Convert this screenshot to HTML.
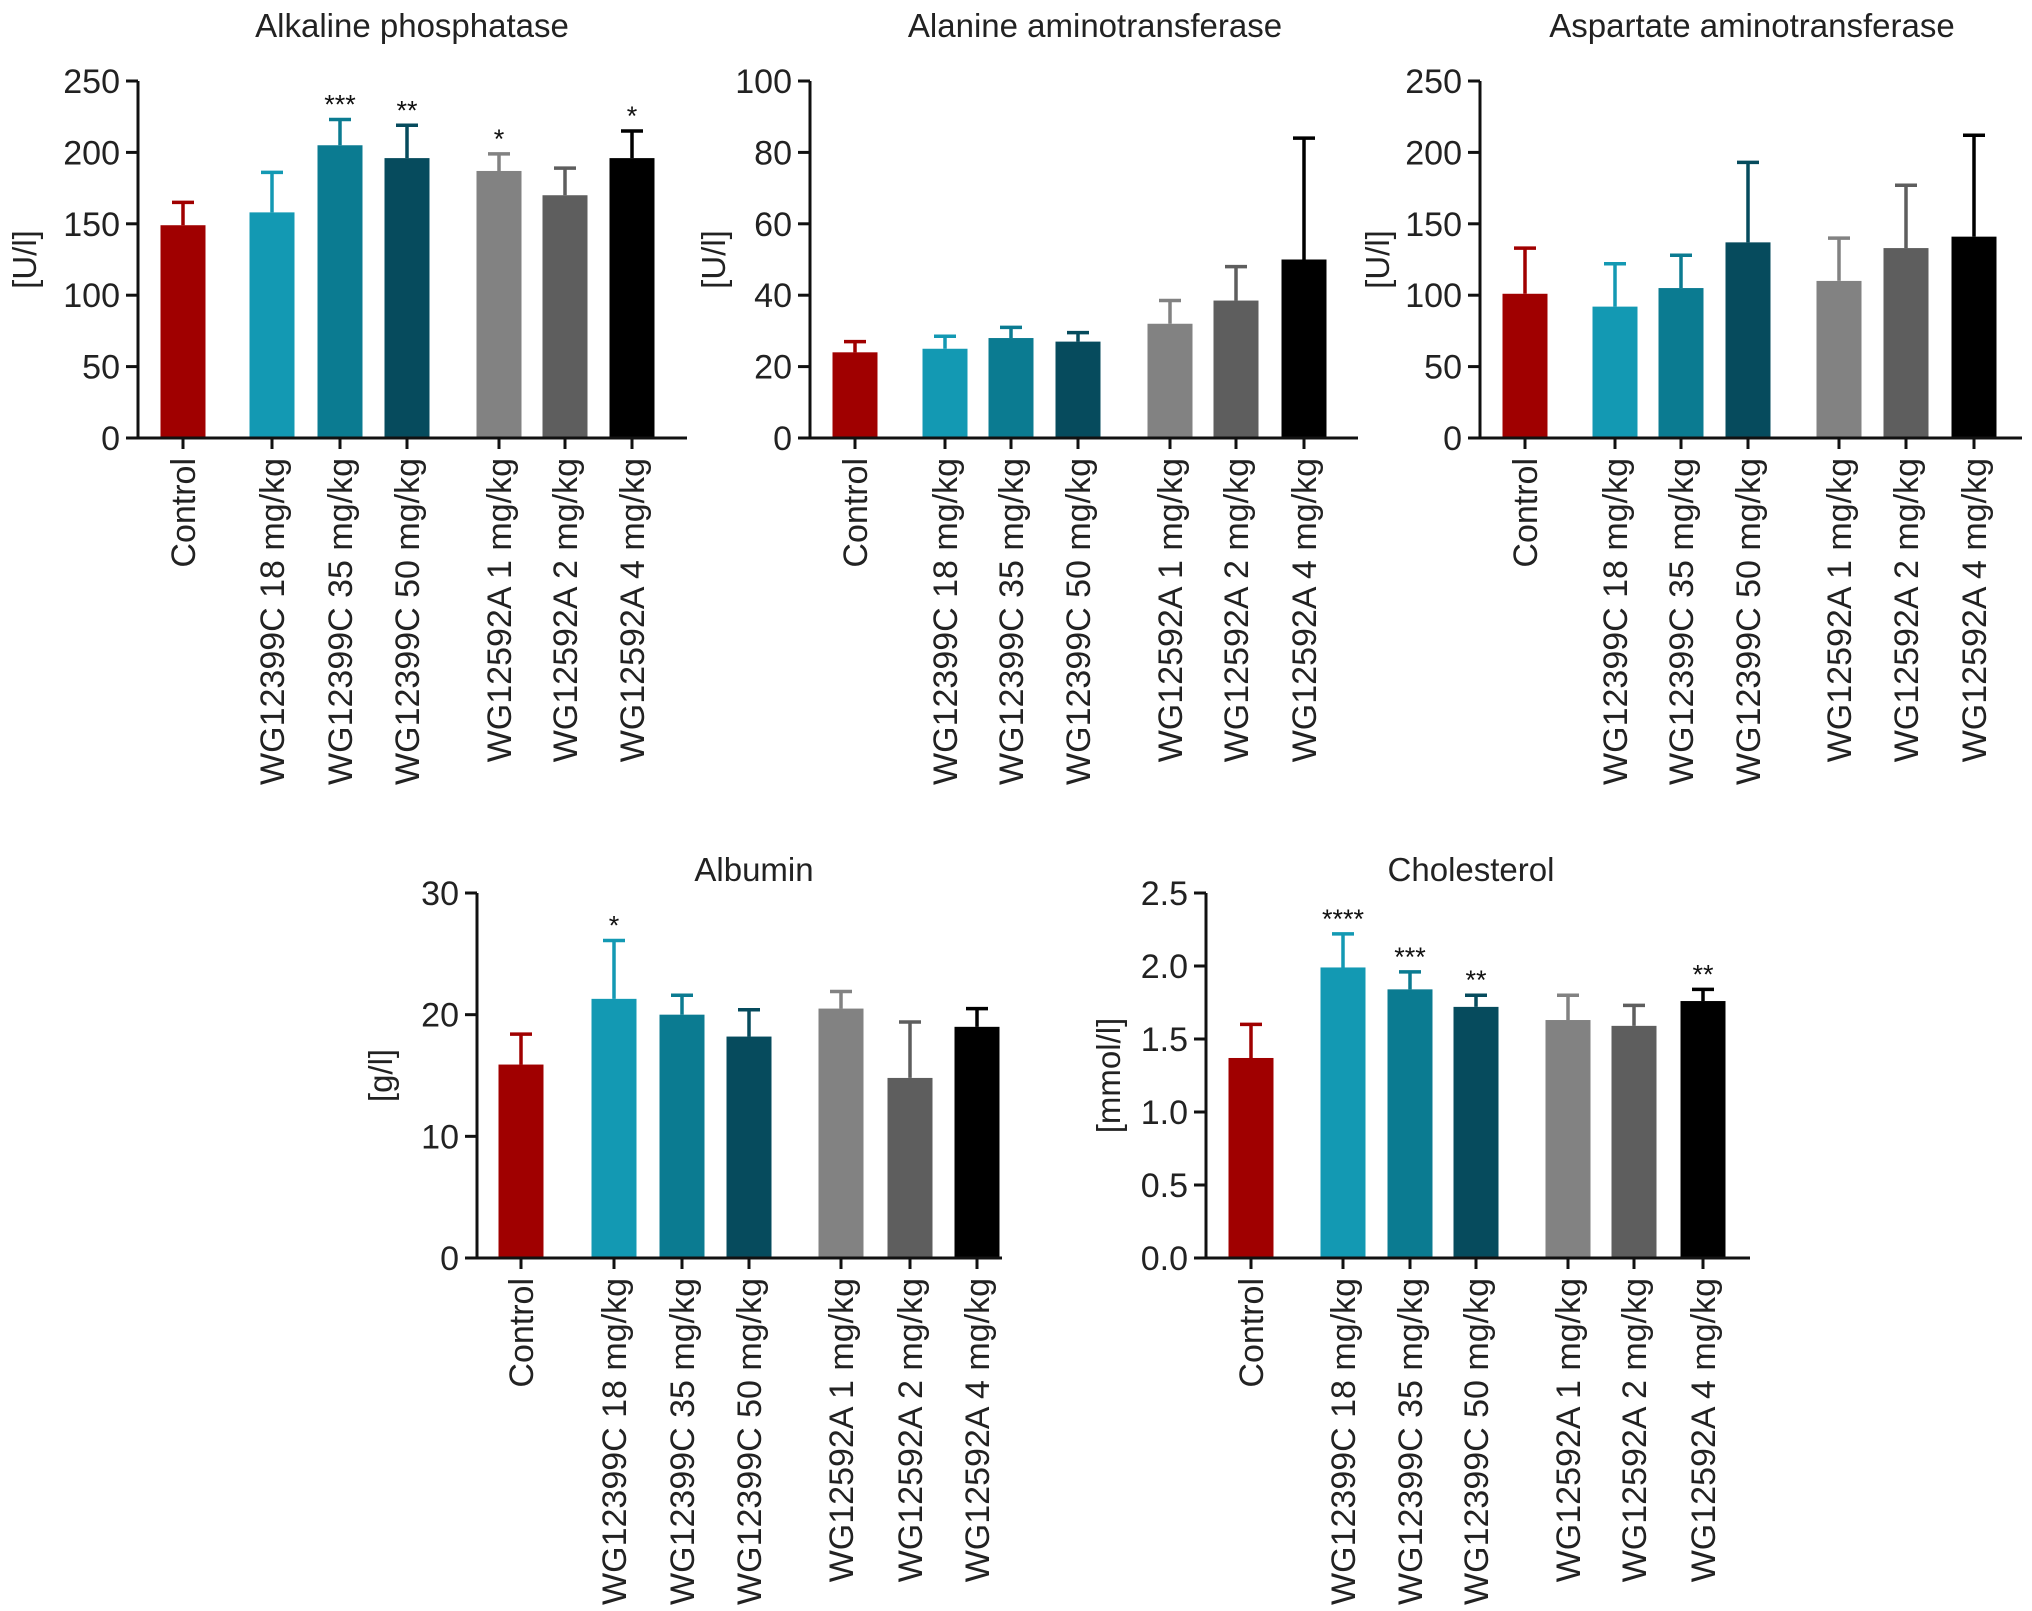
<!DOCTYPE html>
<html><head><meta charset="utf-8"><style>
html,body{margin:0;padding:0;background:#fff;}
svg{display:block;font-family:"Liberation Sans",Arial,sans-serif;}
</style></head><body>
<svg id="fig" width="2032" height="1611" viewBox="0 0 2032 1611" xmlns="http://www.w3.org/2000/svg"></svg>
<script>
const categories = ["Control","WG12399C 18 mg/kg","WG12399C 35 mg/kg","WG12399C 50 mg/kg","WG12592A 1 mg/kg","WG12592A 2 mg/kg","WG12592A 4 mg/kg"];
const alpMeans = [149,158,205,196,187,170,196];
const alpErr = [16,28,18,23,12,19,19];
const alpStars = ["","","***","**","*","","*"];
const altMeans = [24,25,28,27,32,38.5,50];
const altErr = [3,3.5,3,2.5,6.5,9.5,34];
const altStars = ["","","","","","",""];
const astMeans = [101,92,105,137,110,133,141];
const astErr = [32,30,23,56,30,44,71];
const astStars = ["","","","","","",""];
const albMeans = [15.9,21.3,20,18.2,20.5,14.8,19];
const albErr = [2.5,4.8,1.6,2.2,1.4,4.6,1.5];
const albStars = ["","*","","","","",""];
const cholMeans = [1.37,1.99,1.84,1.72,1.63,1.59,1.76];
const cholErr = [0.23,0.23,0.12,0.08,0.17,0.14,0.08];
const cholStars = ["","****","***","**","","","**"];
const alpTicks = [0,50,100,150,200,250];
const altTicks = [0,20,40,60,80,100];
const astTicks = [0,50,100,150,200,250];
const albTicks = [0,10,20,30];
const cholTicks = [0,0.5,1.0,1.5,2.0,2.5];

const colors = ["#a00000","#1399b3","#0b7b91","#064b5d","#828282","#5e5e5e","#000000"];
const NS = "http://www.w3.org/2000/svg";
const svg = document.getElementById("fig");
function mk(tag, attrs, parent){const e=document.createElementNS(NS,tag);for(const k in attrs)e.setAttribute(k,attrs[k]);(parent||svg).appendChild(e);return e;}

function panel(cfg){
  const g = mk("g",{});
  
  
  const max = cfg.ticks[cfg.ticks.length-1];
  const y = v => cfg.y0 - (v/max)*(cfg.y0-cfg.yTop);
  const xs = cfg.centers;
  const t = mk("text",{x:cfg.titleX,y:cfg.titleY,"font-size":33,"text-anchor":"middle",fill:"#222"},g);
  t.textContent = cfg.title;
  
  
  const yl = mk("text",{x:0,y:0,"font-size":33,"text-anchor":"middle",fill:"#222",transform:`translate(${cfg.ylabX},${(cfg.y0+cfg.yTop)/2}) rotate(-90)`},g);
  yl.textContent = cfg.ylab;
  
  
  cfg.means.forEach((m,i)=>{
    const top = y(m), eTop = y(m+cfg.err[i]);
    const b = mk("rect",{x:xs[i]-22.5,y:top,width:45,height:cfg.y0-top,fill:colors[i]},g);
    
    
    const eb = mk("path",{d:`M${xs[i]} ${top} V${eTop} M${xs[i]-11} ${eTop} H${xs[i]+11}`,stroke:colors[i],"stroke-width":3.5,fill:"none"},g);
    
    
    if(cfg.stars[i]){
      const s = mk("text",{x:xs[i],y:eTop-6,"font-size":27,"text-anchor":"middle",fill:"#111"},g);
      s.textContent = cfg.stars[i];
      
      
    }
    mk("line",{x1:xs[i],x2:xs[i],y1:cfg.y0,y2:cfg.y0+11,stroke:"#111","stroke-width":3},g);
    const cl = mk("text",{x:0,y:0,"font-size":34,"text-anchor":"end",fill:"#222",transform:`translate(${xs[i]+12},${cfg.y0+20}) rotate(-90)`},g);
    cl.textContent = categories[i];
    
    
  });
  const ax = mk("path",{d:`M${cfg.axX} ${cfg.yTop} V${cfg.y0} M${cfg.axX-12} ${cfg.y0} H${cfg.axR}`,stroke:"#111","stroke-width":3,fill:"none"},g);
  
  
  cfg.ticks.forEach(v=>{
    mk("line",{x1:cfg.axX-12,x2:cfg.axX,y1:y(v),y2:y(v),stroke:"#111","stroke-width":3},g);
    const tl = mk("text",{x:cfg.axX-18,y:y(v)+12,"font-size":34,"text-anchor":"end",fill:"#222"},g);
    tl.textContent = cfg.dec ? v.toFixed(1) : String(v);
    
    
  });
}
panel({name:"alkaline-phosphatase",title:"Alkaline phosphatase",titleX:412,titleY:37,ylab:"[U/l]",ylabX:36,axX:138,axR:687,y0:438,yTop:81,ticks:alpTicks,means:alpMeans,err:alpErr,stars:alpStars,centers:[183,272,340,407,499,565,632]});
panel({name:"alanine-aminotransferase",title:"Alanine aminotransferase",titleX:1095,titleY:37,ylab:"[U/l]",ylabX:725,axX:810,axR:1358,y0:438,yTop:81,ticks:altTicks,means:altMeans,err:altErr,stars:altStars,centers:[855,945,1011,1078,1170,1236,1304]});
panel({name:"aspartate-aminotransferase",title:"Aspartate aminotransferase",titleX:1752,titleY:37,ylab:"[U/l]",ylabX:1389,axX:1480,axR:2022,y0:438,yTop:81,ticks:astTicks,means:astMeans,err:astErr,stars:astStars,centers:[1525,1615,1681,1748,1839,1906,1974]});
panel({name:"albumin",title:"Albumin",titleX:754,titleY:881,ylab:"[g/l]",ylabX:392,axX:477,axR:1002,y0:1258,yTop:893,ticks:albTicks,means:albMeans,err:albErr,stars:albStars,centers:[521,614,682,749,841,910,977]});
panel({name:"cholesterol",title:"Cholesterol",titleX:1471,titleY:881,ylab:"[mmol/l]",ylabX:1120,axX:1206,axR:1750,y0:1258,yTop:893,ticks:cholTicks,means:cholMeans,err:cholErr,stars:cholStars,dec:true,centers:[1251,1343,1410,1476,1568,1634,1703]});
</script>
</body></html>
